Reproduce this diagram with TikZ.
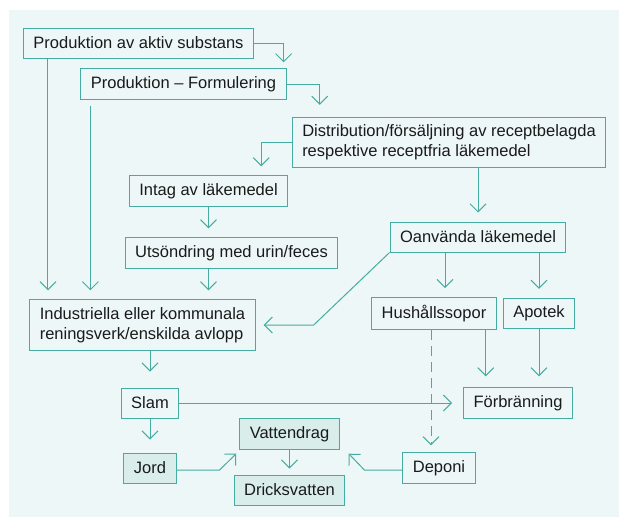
\documentclass[tikz,border=0pt]{standalone}
\usepackage{fontspec}
\setmainfont{Liberation Sans}
\usepackage{xcolor}
\usepackage{tikz}
\usetikzlibrary{positioning, arrows.meta, calc}

\definecolor{tealline}{HTML}{45ACA1}
\definecolor{bgpale}{HTML}{EEF7F8}
\definecolor{tintfill}{HTML}{D9EEEB}
\definecolor{ink}{HTML}{1A1A1A}

\begin{document}
\begin{tikzpicture}[x=1pt, y=-1pt,
  box/.style={draw=tealline, line width=1pt, text=ink, inner xsep=10pt, inner ysep=7.5pt,
    minimum height=30pt, align=left, font=\fontsize{16.5}{20}\selectfont},
  tintbox/.style={box, fill=tintfill},
  arr/.style={draw=tealline, line width=1pt, -{Straight Barb[length=8pt, width=16pt]}, shorten >=9pt}]
\useasboundingbox (0,0) rectangle (619,517);
\fill[bgpale] (9,10) rectangle (619,517);

\node[box] (prod) at (138.5,43) {Produktion av aktiv substans};
\node[box] (form) at (183.5,84) {Produktion – Formulering};
\node[box] (dist) at (449,142.5) {Distribution/försäljning av receptbelagda\\respektive receptfria läkemedel};
\node[box] (intag) at (208.5,191) {Intag av läkemedel};
\node[box] (utsond) at (231.5,253) {Utsöndring med urin/feces};
\node[box] (oanv) at (478,237) {Oanvända läkemedel};
\node[box] (indu) at (142.5,325) {Industriella eller kommunala\\reningsverk/enskilda avlopp};
\node[box] (hush) at (434,313.5) {Hushållssopor};
\node[box] (apotek) at (539,313.5) {Apotek};
\node[box] (slam) at (150,403) {Slam};
\node[box] (forbr) at (518,403) {Förbränning};
\node[tintbox] (jord) at (150,468) {Jord};
\node[tintbox] (vatten) at (289.5,434) {Vattendrag};
\node[tintbox] (dricks) at (289.5,490) {Dricksvatten};
\node[box] (deponi) at (439,468) {Deponi};

% bend and start points
\coordinate (p1) at ([xshift=25pt]prod.south west);
\coordinate (f1) at ([xshift=10pt]form.south west);
\coordinate (h1) at ([xshift=11pt]hush.north);
\coordinate (h2) at ([xshift=-11pt]hush.south east);
\coordinate (h3) at ([xshift=-3pt]hush.south);

\draw[arr, shorten >=6pt] (prod.east) -| ([xshift=-3pt]form.north east);
\draw[arr, shorten >=12pt] (form.east) -| ([xshift=28pt]dist.north west);
\draw[arr] (dist.west) -| ([xshift=-27pt]intag.north east);
\draw[arr] (oanv.north |- dist.south) -- (oanv.north);
\draw[arr] (intag.south) -- (intag.south |- utsond.north);
\draw[arr] (intag.south |- utsond.south) -- (intag.south |- indu.north);
\draw[arr] (p1) -- (p1 |- indu.north);
\draw[arr, shorten <=6pt] (f1) -- (f1 |- indu.north);
\draw[arr, shorten >=8pt] (oanv.south west) -- ([xshift=58pt]indu.east) -- (indu.east);
\draw[arr] (h1 |- oanv.south) -- (h1);
\draw[arr] (apotek.north |- oanv.south) -- (apotek.north);
\draw[arr, shorten >=11pt] (h2) -- (h2 |- forbr.north);
\draw[arr, shorten >=11pt] (apotek.south) -- (apotek.south |- forbr.north);
\draw[arr, dash pattern=on 10pt off 6pt, shorten >=7pt] (h3) -- (h3 |- deponi.north);
\draw[arr, shorten >=16pt] (slam.north |- indu.south) -- (slam.north);
\draw[arr, shorten >=11pt] (slam.east) -- (forbr.west);
\draw[arr, shorten >=13pt] (slam.south) -- (jord.north);
\draw[arr, shorten >=6pt] (vatten.south) -- (dricks.north);
\draw[arr, shorten >=0pt] ([yshift=-2pt]jord.east) -- ++(43,0) -- ([shift={(-3,4)}]vatten.south west);
\draw[arr, shorten >=0pt] ([yshift=-2pt]deponi.west) -- ++(-38,0) -- ([shift={(9,4)}]vatten.south east);
\end{tikzpicture}
\end{document}
